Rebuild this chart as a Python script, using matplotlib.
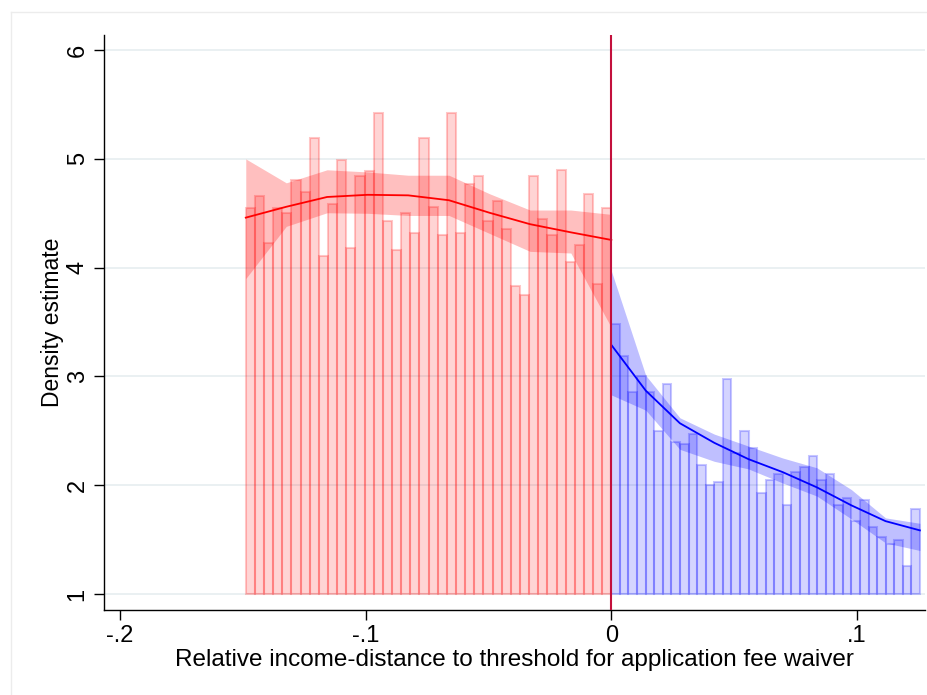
import matplotlib.pyplot as plt
from matplotlib.lines import Line2D
import numpy as np

plt.rcParams['font.family'] = ['Liberation Sans', 'DejaVu Sans']

# histogram below the threshold (40 bins) and above it (36 bins)
red_left, red_width = -0.1488, 0.00372
blue_left, blue_width = 0.0, 0.00349
red_vals = [4.55, 4.66, 4.23, 4.55, 4.50, 4.81, 4.70, 5.19, 4.11, 4.59,
            4.99, 4.18, 4.84, 4.89, 5.42, 4.43, 4.16, 4.50, 4.32, 5.19,
            4.56, 4.30, 5.42, 4.32, 4.77, 4.84, 4.43, 4.61, 4.36, 3.83,
            3.75, 4.84, 4.45, 4.30, 4.90, 4.05, 4.21, 4.68, 3.85, 4.55]
blue_vals = [3.48, 3.19, 2.86, 3.00, 2.86, 2.50, 2.93, 2.40, 2.38, 2.47,
             2.19, 2.00, 2.03, 2.98, 2.30, 2.50, 2.34, 1.93, 2.05, 2.10,
             1.82, 2.12, 2.17, 2.27, 2.05, 2.10, 1.82, 1.88, 1.67, 1.86,
             1.62, 1.52, 1.46, 1.50, 1.26, 1.78]

# local polynomial density fit with confidence band
red_grid = [-0.1488, -0.1323, -0.1157, -0.0992, -0.0827, -0.0661, -0.0496, -0.0331, -0.0165, 0.0]
red_fit = [4.46, 4.56, 4.65, 4.67, 4.665, 4.62, 4.505, 4.40, 4.325, 4.255]
red_hi = [5.00, 4.78, 4.90, 4.88, 4.85, 4.85, 4.68, 4.53, 4.53, 4.49]
red_lo = [3.90, 4.38, 4.505, 4.50, 4.48, 4.48, 4.315, 4.15, 4.135, 3.45]

blue_grid = [0.0, 0.0140, 0.0279, 0.0419, 0.0558, 0.0698, 0.0837, 0.0977, 0.1116, 0.1256]
blue_fit = [3.29, 2.87, 2.57, 2.39, 2.24, 2.12, 1.98, 1.815, 1.67, 1.585]
blue_hi = [3.97, 3.01, 2.62, 2.47, 2.36, 2.25, 2.16, 1.96, 1.70, 1.65]
blue_lo = [2.83, 2.69, 2.33, 2.22, 2.15, 2.02, 1.90, 1.69, 1.47, 1.40]

xticks = [-0.2, -0.1, 0, 0.1]
xtick_labels = ['-.2', '-.1', '0', '.1']
yticks = [1, 2, 3, 4, 5, 6]

fig = plt.figure(figsize=(9.27, 6.95), dpi=100)
ax = fig.add_axes([0.1122, 0.1223, 0.8852, 0.8267])

for y in yticks:
    ax.axhline(y, color='#e6eef0', lw=1.2, zorder=0)

red_x = red_left + red_width * np.arange(len(red_vals))
blue_x = blue_left + blue_width * np.arange(len(blue_vals))
ax.bar(red_x, np.array(red_vals) - 1, width=red_width, bottom=1, align='edge',
       facecolor=(1, 0, 0, 0.17), edgecolor=(1, 0, 0, 0.22), lw=1.5, zorder=1)
ax.bar(blue_x, np.array(blue_vals) - 1, width=blue_width, bottom=1, align='edge',
       facecolor=(0, 0, 1, 0.17), edgecolor=(0, 0, 1, 0.22), lw=1.5, zorder=1)

ax.fill_between(red_grid, red_lo, red_hi, color=(1, 0, 0, 0.25), lw=0, zorder=2)
ax.fill_between(blue_grid, blue_lo, blue_hi, color=(0, 0, 1, 0.25), lw=0, zorder=2)
ax.plot(red_grid, red_fit, color='#ff0000', lw=1.3, zorder=3)
ax.plot(blue_grid, blue_fit, color='#0000ff', lw=1.3, zorder=3)

ax.axvline(0, color='#c3103c', lw=1.5, zorder=4)

ax.set_xlim(-0.2065, 0.1275)
ax.set_ylim(0.853, 6.135)
ax.set_xticks(xticks)
ax.set_xticklabels(xtick_labels)
ax.set_yticks(yticks)
ax.set_yticklabels([str(y) for y in yticks], rotation=90, va='center')
ax.tick_params(axis='both', labelsize=17, length=7, width=1, color='black', pad=4)
for side in ['top', 'right']:
    ax.spines[side].set_visible(False)
for side in ['left', 'bottom']:
    ax.spines[side].set_linewidth(1.0)

ax.set_xlabel('Relative income-distance to threshold for application fee waiver',
              fontsize=17.5, labelpad=1)
ax.set_ylabel('Density estimate', fontsize=16.5, labelpad=2)

# faint outer frame of the graph region
fig.add_artist(Line2D([11 / 927, 11 / 927], [0, 1 - 12 / 695], color='#ececec', lw=1,
                      transform=fig.transFigure))
fig.add_artist(Line2D([11 / 927, 1], [1 - 12 / 695, 1 - 12 / 695], color='#ececec', lw=1,
                      transform=fig.transFigure))

fig.savefig('out.png', dpi=100)
